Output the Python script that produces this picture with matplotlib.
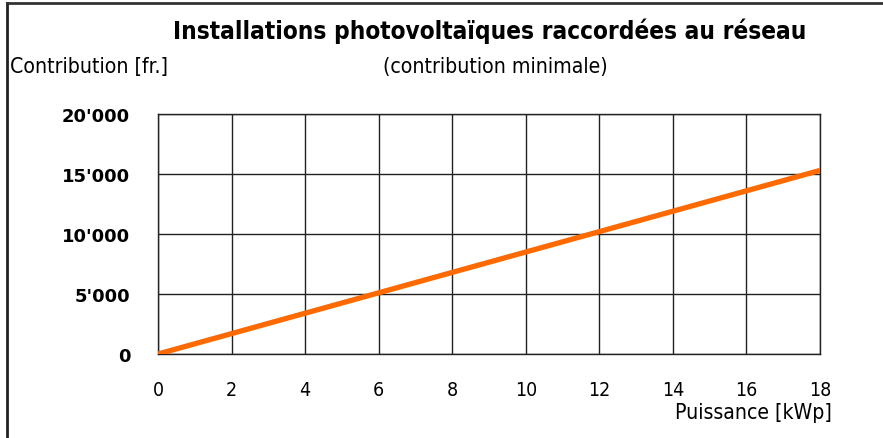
import matplotlib
matplotlib.use("Agg")
import matplotlib.pyplot as plt
from matplotlib.lines import Line2D

# Puissance [kWp] vs contribution minimale [fr.]
puissance = [0, 2, 4, 6, 8, 10, 12, 14, 16, 18]
contribution = [0, 1700, 3400, 5100, 6800, 8500, 10200, 11900, 13600, 15300]
x_ticks = [0, 2, 4, 6, 8, 10, 12, 14, 16, 18]
y_ticks = [0, 5000, 10000, 15000, 20000]
y_labels = ["0", "5'000", "10'000", "15'000", "20'000"]

cond = dict(family="DejaVu Sans", stretch="condensed")

fig = plt.figure(figsize=(8.83, 4.39), dpi=100)
ax = fig.add_axes([158 / 883, 1 - 355 / 439, 662 / 883, 240 / 439])

ax.plot(puissance, contribution, color="#ff6a00", lw=3.8, solid_capstyle="butt", zorder=3)

ax.set_xlim(0, 18)
ax.set_ylim(0, 20000)
ax.set_xticks(x_ticks)
ax.set_yticks(y_ticks)
ax.set_xticklabels([str(v) for v in x_ticks], fontsize=14, **cond)
ax.set_yticklabels(y_labels, fontsize=13, fontweight="bold", family="DejaVu Sans")
ax.tick_params(length=0)
ax.tick_params(axis="x", pad=19)
ax.tick_params(axis="y", pad=20)
ax.grid(True, color="#222222", lw=1)
for s in ax.spines.values():
    s.set_color("#222222")
    s.set_linewidth(1)

fig.text(490 / 883, 1 - 31 / 439, "Installations photovoltaïques raccordées au réseau",
         ha="center", va="center", fontsize=17.5, fontweight="bold", **cond)
fig.text(10 / 883, 1 - 67 / 439, "Contribution [fr.]", ha="left", va="center", fontsize=15.2, **cond)
fig.text(495 / 883, 1 - 67 / 439, "(contribution minimale)", ha="center", va="center", fontsize=15.2, **cond)
fig.text(832 / 883, 1 - 413 / 439, "Puissance [kWp]", ha="right", va="center", fontsize=15.2, **cond)

# frame lines at top and left of the figure
fig.add_artist(Line2D([6.5 / 883, 6.5 / 883], [0, 1 - 3.5 / 439], transform=fig.transFigure, color="#222222", lw=2))
fig.add_artist(Line2D([6.5 / 883, 1], [1 - 3.5 / 439, 1 - 3.5 / 439], transform=fig.transFigure, color="#333333", lw=2))

fig.savefig("out.png", dpi=100)
